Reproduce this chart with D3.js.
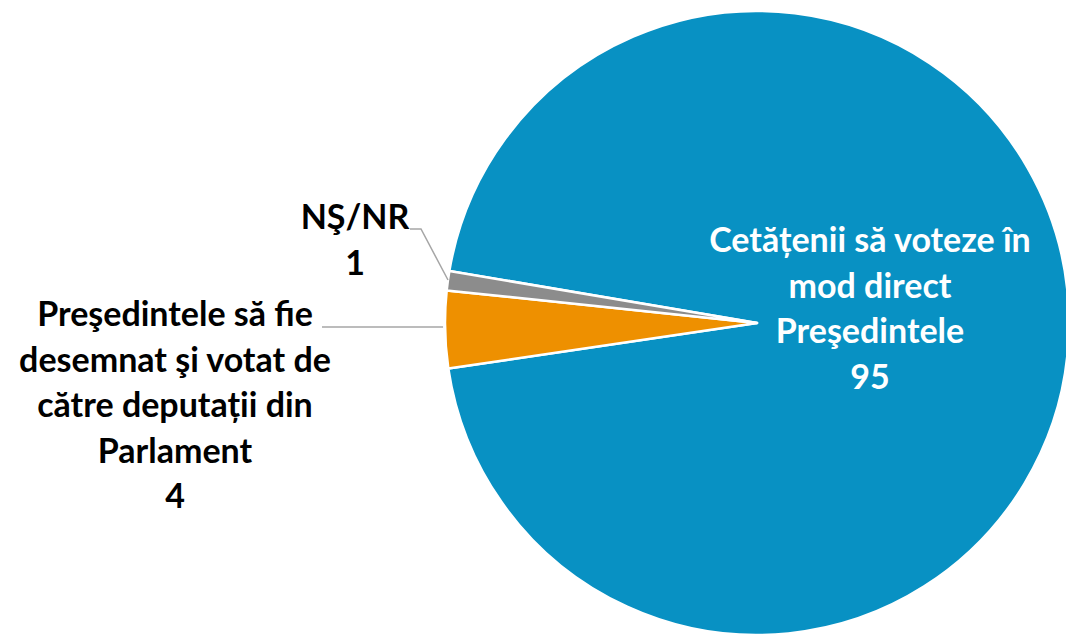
<!DOCTYPE html>
<html>
<head>
    <meta charset="utf-8">
    <script src="https://d3js.org/d3.v7.min.js"></script>
    <title>Pie</title>
    <style>
        body { margin: 0; background: #fff; }
        svg text { font-family: Lato, "Open Sans", sans-serif; font-weight: 700; }
    </style>
</head>
<body>
    <svg id="chart"></svg>
    <script>
        // valori (%)
        const categories = [
            "Cetățenii să voteze în mod direct Preşedintele",
            "Preşedintele să fie desemnat şi votat de către deputații din Parlament",
            "NŞ/NR"
        ]
        const values = [95, 4, 1]
        const labelLines = [
            ["Cetățenii să voteze în", "mod direct", "Preşedintele"],
            ["Preşedintele să fie", "desemnat şi votat de", "către deputații din", "Parlament"],
            ["NŞ/NR"]
        ]
        const colors = ["#0891c3", "#ee9000", "#8c8c8c"]

        const width = 1066, height = 634
        const cx = 757, cy = 323, r = 312
        const lineH = 45.5

        const svg = d3.select("#chart").attr("width", width).attr("height", height)
        const g = svg.append("g").attr("transform", `translate(${cx},${cy})`)

        // primul sector incepe la ~280 grade (sensul acelor)
        const a0 = 279.6 * Math.PI / 180
        const pie = d3.pie().sort(null).startAngle(a0).endAngle(a0 + 2 * Math.PI)
        const arc = d3.arc().innerRadius(0).outerRadius(r)
        const arcs = pie(values)

        g.selectAll("path").data(arcs).enter().append("path")
            .attr("d", arc)
            .attr("fill", (d, i) => colors[i])
            .attr("stroke", "#fff")
            .attr("stroke-width", 2.5)
            .attr("stroke-linejoin", "round")

        // puncte pe margine pentru liniile de legatura
        const edge = d3.arc().innerRadius(r).outerRadius(r)

        function label(lines, val, x, y0, fill) {
            const t = svg.append("text").attr("text-anchor", "middle").attr("fill", fill)
                .attr("font-size", 34)
            lines.concat([String(val)]).forEach((s, i) => {
                t.append("tspan").attr("x", x).attr("y", y0 + i * lineH).text(s)
            })
        }

        // eticheta sector mare (in interior)
        label(labelLines[0], values[0], 870, 252, "#fff")

        // eticheta sector portocaliu
        label(labelLines[1], values[1], 175, 326, "#000")
        const pO = edge.centroid(arcs[1])
        svg.append("path")
            .attr("d", d3.line()([[322, 327], [cx + pO[0] - 2, 327]]))
            .attr("stroke", "#a6a6a6").attr("stroke-width", 1.5).attr("fill", "none")

        // eticheta NS/NR
        label(labelLines[2], values[2], 355, 229, "#000")
        svg.append("path")
            .attr("d", d3.line()([[410, 229], [421, 229], [448, 280]]))
            .attr("stroke", "#a6a6a6").attr("stroke-width", 1.5).attr("fill", "none")
    </script>
</body>
</html>
